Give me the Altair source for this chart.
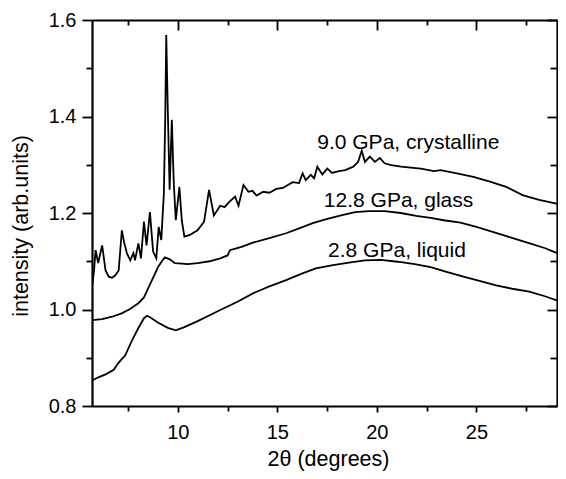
import altair as alt
import pandas as pd

# ---- data ----
cryst_x = [5.69, 5.79, 5.87, 6.00, 6.10, 6.20, 6.37, 6.53, 6.70, 6.86,
           7.03, 7.19, 7.30, 7.44, 7.61, 7.77, 7.85, 8.02, 8.15, 8.30,
           8.43, 8.60, 8.76, 8.92, 9.04, 9.17, 9.30, 9.37, 9.42, 9.50,
           9.59, 9.70, 9.80, 9.90, 10.08, 10.20, 10.33, 10.58, 10.99, 11.32,
           11.57, 11.81, 12.13, 12.35, 12.56, 12.88, 13.05, 13.30, 13.55, 13.75,
           13.96, 14.29, 14.60, 14.95, 15.28, 15.77, 16.09, 16.27, 16.43, 16.68,
           16.85, 17.01, 17.26, 17.51, 17.75, 18.10, 18.41, 18.82, 19.06, 19.24,
           19.40, 19.65, 19.90, 20.15, 20.39, 20.72, 21.22, 21.70, 22.21, 22.87,
           23.20, 24.02, 24.85, 25.68, 26.50, 27.32, 28.15, 28.97, 29.05]
cryst_y = [1.047, 1.080, 1.123, 1.096, 1.115, 1.133, 1.081, 1.068, 1.066, 1.071,
           1.081, 1.164, 1.140, 1.117, 1.102, 1.117, 1.102, 1.137, 1.106, 1.182,
           1.133, 1.202, 1.120, 1.106, 1.171, 1.144, 1.240, 1.400, 1.569, 1.410,
           1.248, 1.393, 1.260, 1.185, 1.254, 1.185, 1.151, 1.154, 1.164, 1.182,
           1.248, 1.195, 1.215, 1.212, 1.222, 1.234, 1.215, 1.258, 1.244, 1.246,
           1.236, 1.244, 1.242, 1.250, 1.252, 1.264, 1.262, 1.282, 1.268, 1.279,
           1.272, 1.296, 1.280, 1.292, 1.283, 1.287, 1.289, 1.296, 1.306, 1.329,
           1.306, 1.317, 1.306, 1.314, 1.303, 1.299, 1.296, 1.294, 1.292, 1.287,
           1.289, 1.282, 1.275, 1.265, 1.254, 1.237, 1.227, 1.220, 1.219]

glass_x = [5.69, 6.2, 6.7, 7.18, 7.6, 8.02, 8.3, 8.51, 8.75, 9.01,
           9.2, 9.35, 9.6, 9.85, 10.2, 10.49, 11.0, 11.6, 12.13, 12.5,
           12.62, 13.2, 13.81, 14.6, 15.44, 16.1, 16.78, 17.42, 18.2, 18.91,
           19.6, 20.39, 21.2, 21.98, 22.7, 23.36, 24.2, 25.0, 25.9, 26.83,
           27.6, 28.46, 29.05]
glass_y = [0.978, 0.980, 0.985, 0.992, 1.001, 1.013, 1.025, 1.044, 1.065, 1.088,
           1.100, 1.108, 1.104, 1.096, 1.095, 1.094, 1.096, 1.100, 1.106, 1.112,
           1.123, 1.130, 1.139, 1.148, 1.158, 1.168, 1.179, 1.187, 1.195, 1.202,
           1.204, 1.204, 1.200, 1.194, 1.190, 1.185, 1.180, 1.171, 1.160, 1.148,
           1.138, 1.127, 1.117]

liq_x = [5.69, 6.04, 6.4, 6.78, 7.03, 7.36, 7.69, 8.0, 8.3, 8.45,
         8.6, 9.0, 9.5, 9.9, 10.3, 11.0, 11.6, 12.13, 13.0, 13.8,
         14.6, 15.44, 16.2, 16.93, 17.8, 18.6, 19.4, 20.2, 21.04, 21.9,
         22.7, 23.5, 24.35, 25.2, 25.99, 26.8, 27.66, 28.4, 29.05]
liq_y = [0.853, 0.860, 0.866, 0.875, 0.890, 0.905, 0.935, 0.960, 0.982, 0.987,
         0.984, 0.973, 0.962, 0.957, 0.963, 0.976, 0.988, 0.999, 1.016, 1.034,
         1.048, 1.061, 1.074, 1.085, 1.092, 1.097, 1.102, 1.103, 1.099, 1.094,
         1.088, 1.078, 1.068, 1.059, 1.050, 1.043, 1.037, 1.028, 1.019]

label_text = ["9.0 GPa, crystalline", "12.8 GPa, glass", "2.8 GPa, liquid"]
label_x = [21.58, 21.09, 21.01]
label_y = [1.3325, 1.2116, 1.109]

x_major = [10, 15, 20, 25]
x_minor = [7.5, 12.5, 17.5, 22.5, 27.5]
y_major = [0.8, 1.0, 1.2, 1.4, 1.6]
y_minor = [0.9, 1.1, 1.3, 1.5]
x_domain = [5.69, 29.05]
y_domain = [0.8, 1.6]

FONT = "Liberation Sans"
W, H = 465, 386

df = pd.concat([
    pd.DataFrame({"x": cryst_x, "y": cryst_y, "series": "crystalline"}),
    pd.DataFrame({"x": glass_x, "y": glass_y, "series": "glass"}),
    pd.DataFrame({"x": liq_x, "y": liq_y, "series": "liquid"}),
], ignore_index=True)
labels_df = pd.DataFrame({"x": label_x, "y": label_y, "label": label_text})
anchor_df = pd.DataFrame({"x": [10.0, 20.0], "y": [1.0, 1.2]})

xs = alt.Scale(domain=x_domain, nice=False, zero=False)
ys = alt.Scale(domain=y_domain, nice=False, zero=False)


def tick_axis(orient, values, size, domain=False, offset=0):
    return alt.Axis(orient=orient, values=values, tickSize=size, tickWidth=1.8,
                    tickColor="black", labels=False, domain=domain,
                    domainColor="black", domainWidth=2.2, offset=offset,
                    grid=False, title="")


ax_bottom = alt.Axis(orient="bottom", values=x_major, tickSize=6, tickWidth=1.8,
                     tickColor="black", domain=True, domainColor="black",
                     domainWidth=2.2, labelFont=FONT, labelFontSize=20,
                     labelColor="black", labelPadding=10, labelOverlap=False,
                     grid=False, title="2θ (degrees)", titleFont=FONT,
                     titleFontSize=21.5, titleFontWeight="normal",
                     titleColor="black", titleX=236, titleY=59,
                     titleAlign="center", titleBaseline="alphabetic")
ax_left = alt.Axis(orient="left", values=y_major, format=".1f", tickSize=10,
                   tickWidth=1.8, tickColor="black", domain=True,
                   domainColor="black", domainWidth=2.2, labelFont=FONT,
                   labelFontSize=20, labelColor="black", labelPadding=6,
                   labelOverlap=False, grid=False,
                   title="intensity (arb.units)", titleFont=FONT,
                   titleFontSize=21.5, titleFontWeight="normal",
                   titleColor="black", titleX=-60, titleY=205.5,
                   titleAngle=270, titleAlign="center", titleBaseline="bottom")

lines = alt.Chart(df).mark_line(color="black", strokeWidth=1.8, clip=True).encode(
    x=alt.X("x:Q", scale=xs, axis=ax_bottom),
    y=alt.Y("y:Q", scale=ys, axis=ax_left),
    detail="series:N",
)

texts = alt.Chart(labels_df).mark_text(font=FONT, fontSize=21, color="black",
                                        align="center", baseline="alphabetic").encode(
    x=alt.X("x:Q", scale=xs, axis=None),
    y=alt.Y("y:Q", scale=ys, axis=None),
    text="label:N",
)


def ticks_layer(xaxis, yaxis):
    return alt.Chart(anchor_df).mark_point(opacity=0).encode(
        x=alt.X("x:Q", scale=xs, axis=xaxis),
        y=alt.Y("y:Q", scale=ys, axis=yaxis),
    )


minor_out = ticks_layer(tick_axis("bottom", x_minor, 5),
                        tick_axis("left", y_minor, 6))
top_right_major = ticks_layer(tick_axis("bottom", x_major, 10, True, -H),
                              tick_axis("left", y_major, 10, True, -W))
top_right_minor = ticks_layer(tick_axis("bottom", x_minor, 5, False, -H),
                              tick_axis("left", y_minor, 7, False, -W))

chart = alt.layer(lines, texts, minor_out, top_right_major, top_right_minor).resolve_scale(
    x="independent", y="independent"
).properties(
    width=W, height=H,
    autosize=alt.AutoSizeParams(type="none"),
    padding={"left": 84, "top": 12, "right": 1, "bottom": 65},
    background="white",
).configure_view(stroke=None)

chart.save("out.html", embed_options={"renderer": "svg", "actions": False})
